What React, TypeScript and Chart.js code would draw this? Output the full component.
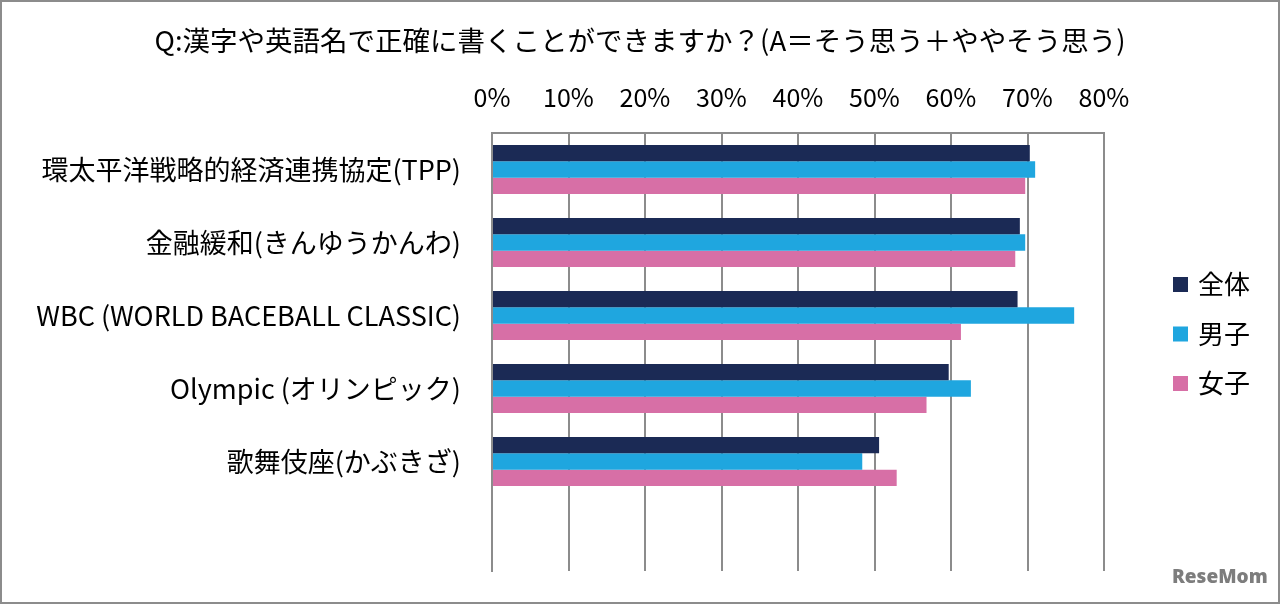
import React, { useEffect, useRef } from 'react';
import { Chart, registerables } from 'chart.js';

Chart.register(...registerables);

const FONT = "'Noto Sans CJK JP', 'Noto Sans', sans-serif";

// survey items (last one is the empty row Excel leaves at the bottom)
const categories = [
  '環太平洋戦略的経済連携協定(TPP)',
  '金融緩和(きんゆうかんわ)',
  'WBC (WORLD BACEBALL CLASSIC)',
  'Olympic (オリンピック)',
  '歌舞伎座(かぶきざ)',
  '',
];
const seriesNames = ['全体', '男子', '女子'];
const totalValues = [70.3, 69.0, 68.7, 59.7, 50.6, null];
const boysValues = [71.0, 69.7, 76.1, 62.6, 48.4, null];
const girlsValues = [69.7, 68.4, 61.3, 56.8, 52.9, null];
const seriesColors = ['#1b2a55', '#1fa6df', '#d76fa6'];
const axisMax = 80;
const axisStep = 10;

const titleText = 'Q:漢字や英語名で正確に書くことができますか？(A＝そう思う＋ややそう思う)';

const GRID = '#8c8c8c';

// legend drawn on the right side, like the Excel one
const sideLegend = {
  id: 'sideLegend',
  afterDraw(chart: Chart) {
    const { ctx } = chart;
    ctx.save();
    ctx.font = `26px ${FONT}`;
    ctx.textBaseline = 'middle';
    ctx.textAlign = 'left';
    chart.data.datasets.forEach((ds, i) => {
      const y = 282.5 + i * 49.5;
      ctx.fillStyle = ds.backgroundColor as string;
      ctx.fillRect(1171, y - 7.5, 15, 15);
      ctx.fillStyle = '#000';
      ctx.fillText(ds.label as string, 1196, y);
    });
    ctx.restore();
  },
};

const App: React.FC = () => {
  const chartRef = useRef<HTMLCanvasElement>(null);
  const chartInstance = useRef<Chart | null>(null);

  useEffect(() => {
    if (!chartRef.current) return;
    if (chartInstance.current) chartInstance.current.destroy();

    const valueSets = [totalValues, boysValues, girlsValues];

    chartInstance.current = new Chart(chartRef.current, {
      type: 'bar',
      data: {
        labels: categories,
        datasets: seriesNames.map((name, i) => ({
          label: name,
          data: valueSets[i],
          backgroundColor: seriesColors[i],
          borderWidth: 0,
          categoryPercentage: 0.67,
          barPercentage: 1,
        })),
      },
      plugins: [sideLegend],
      options: {
        indexAxis: 'y',
        responsive: true,
        maintainAspectRatio: false,
        animation: false,
        layout: {
          padding: { left: 0, right: 0, top: 0, bottom: 31 },
        },
        plugins: {
          legend: { display: false },
          tooltip: { enabled: false },
          title: {
            display: true,
            text: titleText,
            color: '#000',
            font: { family: FONT, size: 27.5, weight: 'normal' },
            padding: { top: 22, bottom: 8 },
          },
        },
        scales: {
          x: {
            position: 'top',
            min: 0,
            max: axisMax,
            afterFit: (scale: any) => {
              scale.height = 131 - 63;
            },
            ticks: {
              stepSize: axisStep,
              color: '#000',
              padding: 21,
              font: { family: FONT, size: 25 },
              callback: (v: any) => `${v}%`,
            },
            grid: {
              color: GRID,
              lineWidth: 2,
              drawTicks: false,
            },
            border: { display: true, color: GRID, width: 2 },
          },
          y: {
            afterFit: (scale: any) => {
              scale.width = 490;
              // label padding should only push labels sideways
              scale.paddingTop = 0;
              scale.paddingBottom = 0;
            },
            ticks: {
              autoSkip: false,
              color: '#000',
              padding: 31,
              font: { family: FONT, size: 27 },
            },
            grid: { display: false, drawTicks: false },
            border: { display: true, color: GRID, width: 2 },
          },
          // empty axis that keeps room for the legend on the right
          side: {
            position: 'right',
            type: 'linear',
            afterFit: (scale: any) => {
              scale.width = 174;
              scale.paddingTop = 0;
              scale.paddingBottom = 0;
            },
            ticks: { display: false },
            grid: { display: false, drawTicks: false },
            border: { display: false },
          },
        },
      },
    });

    return () => {
      if (chartInstance.current) {
        chartInstance.current.destroy();
        chartInstance.current = null;
      }
    };
  }, []);

  return (
    <div
      style={{
        position: 'absolute',
        top: 0,
        left: 0,
        width: 1280,
        height: 604,
        boxSizing: 'border-box',
        border: `2px solid ${GRID}`,
        background: '#fff',
      }}
    >
      <div style={{ position: 'relative', width: 1276, height: 600 }}>
        <canvas ref={chartRef} />
      </div>
      <div
        style={{
          position: 'absolute',
          left: 1170,
          top: 565,
          fontFamily: "'Open Sans', sans-serif",
          fontWeight: 800,
          fontSize: 19,
          lineHeight: 1,
          color: '#7d7d7d',
        }}
      >
        ReseMom
      </div>
    </div>
  );
};

export default App;
